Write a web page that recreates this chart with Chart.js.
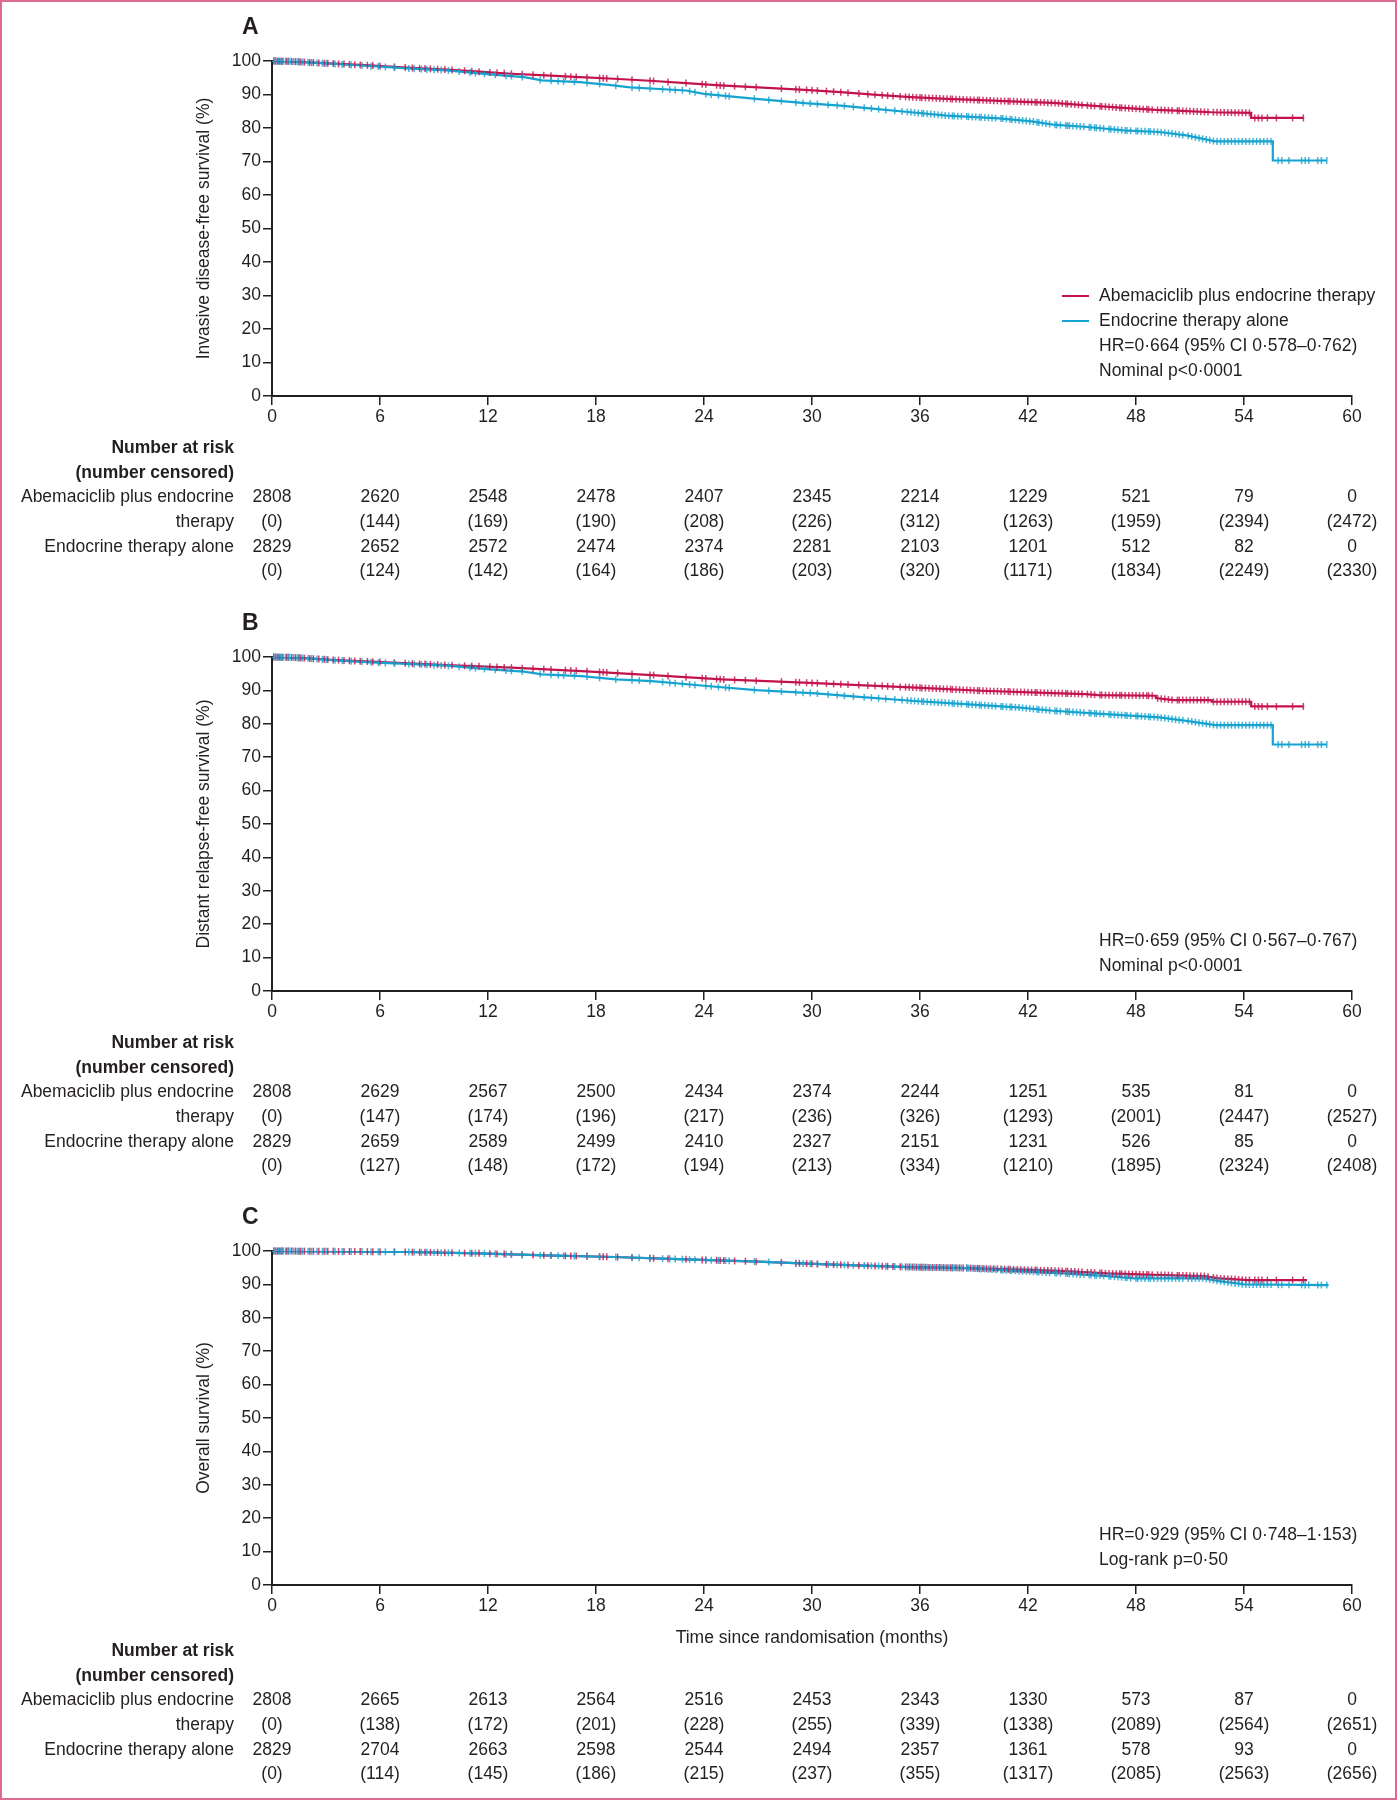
<!DOCTYPE html>
<html>
<head>
<meta charset="utf-8">
<title>Kaplan-Meier curves - monarchE</title>
<script src="https://cdn.jsdelivr.net/npm/chart.js@4.4.1/dist/chart.umd.min.js"></script>
<style>
    html, body { margin: 0; padding: 0; background: #fff; }
    #page { position: relative; width: 1397px; height: 1800px; overflow: hidden; background: #fff; }
    #page canvas { position: absolute; left: 0; }
    #frame { position: absolute; left: 0; top: 0; width: 1397px; height: 1800px; box-sizing: border-box;
             border: 2px solid #dc6b8d; pointer-events: none; }
</style>
</head>
<body>
<div id="page">
    <canvas id="panelA" width="1397" height="600" style="top:0"></canvas>
    <canvas id="panelB" width="1397" height="595" style="top:600px"></canvas>
    <canvas id="panelC" width="1397" height="605" style="top:1195px"></canvas>
    <div id="frame"></div>
</div>
<script>
/* =========================================
   DATA
   ========================================= */
const monthTicks = [0, 6, 12, 18, 24, 30, 36, 42, 48, 54, 60];
const armNames = ['Abemaciclib plus endocrine therapy', 'Endocrine therapy alone'];

// A - invasive disease-free survival (%)
const idfsAbemaMonths = [0, 1, 2, 3.5, 5.4, 7.5, 9.7, 11.5, 13.3, 15.2, 17.1, 19.0, 21.0, 23.0, 24.9, 27.0, 29.6, 31.6, 33.6, 35.5, 37.5, 39.4, 41.4, 43.4, 44.9, 47.3, 49.1, 50.2, 52.2, 54.4, 54.4, 57.3];
const idfsAbemaPct    = [100, 99.9, 99.6, 99.2, 98.7, 98.0, 97.4, 96.8, 96.2, 95.7, 95.2, 94.7, 94.1, 93.4, 92.7, 92.1, 91.4, 90.7, 89.9, 89.2, 88.7, 88.3, 87.9, 87.5, 86.9, 86.0, 85.4, 85.2, 84.7, 84.5, 83.0, 83.0];
const idfsEndoMonths  = [0, 1, 2, 3.5, 5.4, 7.5, 9.7, 12.1, 14.0, 15.0, 17.1, 18.7, 19.9, 23.0, 24.0, 26.9, 29.6, 31.6, 33.5, 35.5, 37.5, 40.4, 42.2, 43.4, 45.3, 47.3, 49.3, 50.8, 52.4, 55.6, 55.6, 58.6];
const idfsEndoPct     = [100, 99.9, 99.6, 99.1, 98.5, 97.8, 97.2, 96.0, 95.2, 94.2, 93.7, 92.9, 92.1, 91.2, 90.2, 88.7, 87.4, 86.7, 85.7, 84.7, 83.7, 82.9, 82.0, 81.0, 80.3, 79.3, 78.8, 77.8, 76.0, 76.0, 70.3, 70.3];
const idfsAbemaAtRisk = [2808, 2620, 2548, 2478, 2407, 2345, 2214, 1229, 521, 79, 0];
const idfsAbemaCens   = [0, 144, 169, 190, 208, 226, 312, 1263, 1959, 2394, 2472];
const idfsEndoAtRisk  = [2829, 2652, 2572, 2474, 2374, 2281, 2103, 1201, 512, 82, 0];
const idfsEndoCens    = [0, 124, 142, 164, 186, 203, 320, 1171, 1834, 2249, 2330];

// B - distant relapse-free survival (%)
const drfsAbemaMonths = [0, 1, 2, 3.5, 5.5, 9.7, 13.3, 17.2, 21.1, 25.0, 27.5, 30.2, 32.6, 35.5, 39.4, 43.4, 45.2, 45.9, 49.1, 49.1, 50.1, 52.2, 52.2, 54.4, 54.4, 57.3];
const drfsAbemaPct    = [100, 99.9, 99.6, 99.1, 98.6, 97.6, 96.8, 95.8, 94.6, 93.3, 92.8, 92.2, 91.6, 90.9, 89.9, 89.2, 88.9, 88.6, 88.4, 87.7, 87.1, 87.1, 86.6, 86.6, 85.2, 85.2];
const drfsEndoMonths  = [0, 1, 2, 3.5, 5.5, 9.7, 12.1, 14.0, 15.0, 17.2, 19.1, 21.1, 24.0, 26.9, 30.2, 32.8, 35.5, 38.5, 41.4, 43.4, 46.3, 49.3, 50.8, 52.4, 55.6, 55.6, 58.6];
const drfsEndoPct     = [100, 99.9, 99.6, 99.0, 98.4, 97.4, 96.3, 95.6, 94.8, 94.3, 93.3, 92.8, 91.4, 90.1, 89.1, 88.0, 86.9, 85.9, 84.9, 83.9, 82.9, 81.9, 80.9, 79.6, 79.6, 73.8, 73.8];
const drfsAbemaAtRisk = [2808, 2629, 2567, 2500, 2434, 2374, 2244, 1251, 535, 81, 0];
const drfsAbemaCens   = [0, 147, 174, 196, 217, 236, 326, 1293, 2001, 2447, 2527];
const drfsEndoAtRisk  = [2829, 2659, 2589, 2499, 2410, 2327, 2151, 1231, 526, 85, 0];
const drfsEndoCens    = [0, 127, 148, 172, 194, 213, 334, 1210, 1895, 2324, 2408];

// C - overall survival (%)
const osAbemaMonths = [0, 3.5, 7.4, 11.5, 15.2, 19.0, 23.0, 27.0, 30.8, 35.4, 38.6, 40.5, 44.0, 46.4, 49.5, 51.8, 52.6, 54.2, 57.5];
const osAbemaPct    = [100, 99.9, 99.7, 99.3, 98.7, 98.2, 97.5, 96.8, 96.0, 95.2, 94.9, 94.6, 94.0, 93.3, 92.8, 92.5, 91.8, 91.3, 91.3];
const osEndoMonths  = [0, 3.5, 7.4, 11.5, 15.2, 19.0, 23.0, 27.0, 30.8, 35.4, 38.6, 40.5, 44.0, 46.4, 47.9, 51.8, 52.6, 54.0, 58.7];
const osEndoPct     = [100, 99.9, 99.7, 99.3, 98.7, 98.2, 97.5, 96.8, 96.0, 95.2, 94.9, 94.3, 93.3, 92.5, 91.8, 91.8, 91.0, 90.0, 89.8];
const osAbemaAtRisk = [2808, 2665, 2613, 2564, 2516, 2453, 2343, 1330, 573, 87, 0];
const osAbemaCens   = [0, 138, 172, 201, 228, 255, 339, 1338, 2089, 2564, 2651];
const osEndoAtRisk  = [2829, 2704, 2663, 2598, 2544, 2494, 2357, 1361, 578, 93, 0];
const osEndoCens    = [0, 114, 145, 186, 215, 237, 355, 1317, 2085, 2563, 2656];

const abemaCensorMonths = [
    0.1, 0.2, 0.3, 0.4, 0.5, 0.6, 0.8, 0.9, 1.1, 1.3, 1.5, 1.6, 1.8, 2.1, 2.3, 2.6, 2.9, 3.1, 3.4, 3.7,
    4.0, 4.3, 4.6, 4.9, 5.3, 5.6, 6.0, 6.8, 7.4, 7.8, 8.2, 8.5, 8.8, 9.2, 9.6, 10.0, 10.7, 11.1, 11.5, 12.1,
    12.5, 12.9, 13.3, 13.9, 14.5, 15.1, 15.5, 16.3, 16.6, 16.9, 17.5, 18.2, 18.4, 18.6, 19.2, 20.0, 21.0, 21.2,
    22.0, 23.0, 23.9, 24.1, 24.7, 24.9, 25.1, 25.7, 26.3, 26.9, 28.3, 29.1, 29.3, 29.7, 30.0, 30.3, 30.8, 31.2,
    31.6, 32.0, 32.6, 33.1, 33.5, 33.9, 34.2, 34.5, 34.9, 35.2, 35.4, 35.6, 35.8, 36.0, 36.1, 36.3, 36.5, 36.7,
    36.9, 37.1, 37.3, 37.5, 37.7, 37.8, 38.0, 38.2, 38.4, 38.6, 38.8, 39.0, 39.2, 39.3, 39.5, 39.7, 39.9, 40.1,
    40.3, 40.5, 40.7, 40.9, 41.0, 41.2, 41.4, 41.6, 41.8, 42.0, 42.2, 42.4, 42.5, 42.7, 42.9, 43.1, 43.3, 43.5,
    43.7, 43.9, 44.1, 44.2, 44.4, 44.6, 44.8, 45.0, 45.3, 45.5, 45.7, 46.0, 46.1, 46.3, 46.5, 46.7, 46.9, 47.1,
    47.2, 47.4, 47.6, 47.8, 48.0, 48.2, 48.4, 48.6, 48.7, 48.9, 49.2, 49.4, 49.6, 49.8, 50.0, 50.3, 50.4, 50.6,
    50.8, 51.0, 51.2, 51.4, 51.6, 51.8, 52.0, 52.3, 52.5, 52.7, 52.9, 53.1, 53.3, 53.5, 53.7, 53.9, 54.1, 54.3,
    54.6, 54.8, 55.0, 55.3, 55.8, 56.7, 57.3
];
const endoCensorMonths = [
    0.1, 0.2, 0.35, 0.5, 0.6, 0.75, 0.9, 1.0, 1.2, 1.4, 1.5, 1.7, 2.0, 2.2, 2.5, 2.8, 3.0, 3.5, 3.9, 4.4,
    5.0, 5.5, 5.9, 6.3, 6.8, 7.6, 7.9, 8.3, 8.6, 9.0, 9.4, 9.8, 10.4, 11.0, 11.3, 11.8, 12.4, 13.0, 13.3, 13.9,
    14.9, 15.5, 15.9, 16.2, 16.8, 17.5, 18.2, 19.1, 20.0, 20.4, 21.0, 21.7, 22.1, 22.4, 22.8, 23.2, 23.5, 24.1,
    24.4, 24.8, 25.2, 25.4, 26.8, 27.6, 28.3, 29.1, 29.5, 29.9, 30.3, 30.9, 31.4, 31.8, 32.3, 32.9, 33.3, 33.7,
    34.1, 34.6, 35.0, 35.3, 35.5, 35.7, 35.9, 36.1, 36.2, 36.4, 36.6, 36.8, 37.0, 37.2, 37.4, 37.6, 37.8, 37.9,
    38.1, 38.3, 38.6, 38.7, 38.9, 39.1, 39.3, 39.4, 39.6, 39.8, 40.0, 40.2, 40.5, 40.6, 40.8, 41.0, 41.1, 41.3,
    41.5, 41.7, 41.9, 42.1, 42.3, 42.5, 42.6, 42.8, 43.0, 43.2, 43.5, 43.6, 43.8, 44.1, 44.2, 44.3, 44.5, 44.7,
    44.9, 45.1, 45.4, 45.5, 45.7, 45.8, 46.0, 46.2, 46.5, 46.6, 46.8, 47.0, 47.2, 47.4, 47.5, 47.7, 48.0, 48.1,
    48.3, 48.5, 48.7, 48.8, 49.0, 49.2, 49.4, 49.6, 49.8, 50.0, 50.2, 50.4, 50.6, 50.9, 51.1, 51.3, 51.5, 51.7,
    51.9, 52.1, 52.3, 52.5, 52.7, 52.9, 53.1, 53.3, 53.5, 53.7, 53.9, 54.1, 54.3, 54.5, 54.7, 54.9, 55.1, 55.3,
    55.5, 55.9, 56.1, 56.5, 57.2, 57.4, 57.6, 58.1, 58.3, 58.6
];

/* =========================================
   STYLE
   ========================================= */
const INK = '#231f20';
const RED = '#c3134b';
const BLUE = '#15a3cf';
const FONT = '"Liberation Sans", Arial, Helvetica, sans-serif';
const FS = 17.5;

Chart.defaults.font.family = FONT;
Chart.defaults.font.size = FS;
Chart.defaults.color = INK;

const toPoints = (months, pct) => months.map((m, i) => ({ x: m, y: pct[i] }));

// per-panel extras (letter, legend, stats, risk table)
const panelSpecs = {
    panelA: {
        letter: 'A', yTitle: 'Invasive disease-free survival (%)', plotTop: 61, plotBottom: 396,
        legend: true, stats: ['HR=0·664 (95% CI 0·578–0·762)', 'Nominal p<0·0001'],
        riskOffset: 52,
        abema: [idfsAbemaMonths, idfsAbemaPct], endo: [idfsEndoMonths, idfsEndoPct],
        risk: [idfsAbemaAtRisk, idfsAbemaCens, idfsEndoAtRisk, idfsEndoCens]
    },
    panelB: {
        letter: 'B', yTitle: 'Distant relapse-free survival (%)', plotTop: 57, plotBottom: 391,
        legend: false, stats: ['HR=0·659 (95% CI 0·567–0·767)', 'Nominal p<0·0001'],
        riskOffset: 52,
        abema: [drfsAbemaMonths, drfsAbemaPct], endo: [drfsEndoMonths, drfsEndoPct],
        risk: [drfsAbemaAtRisk, drfsAbemaCens, drfsEndoAtRisk, drfsEndoCens]
    },
    panelC: {
        letter: 'C', yTitle: 'Overall survival (%)', xTitle: 'Time since randomisation (months)',
        plotTop: 56, plotBottom: 390,
        legend: false, stats: ['HR=0·929 (95% CI 0·748–1·153)', 'Log-rank p=0·50'],
        riskOffset: 66,
        abema: [osAbemaMonths, osAbemaPct], endo: [osEndoMonths, osEndoPct],
        risk: [osAbemaAtRisk, osAbemaCens, osEndoAtRisk, osEndoCens]
    }
};
const censorByDataset = [abemaCensorMonths, endoCensorMonths];

// y pixel on the drawn line at a given x pixel
const yOnLine = (points, px) => {
    for (let i = 1; i < points.length; i++) {
        const p1 = points[i - 1], p2 = points[i];
        if (px >= p1.x && px < p2.x) {
            const t = (px - p1.x) / (p2.x - p1.x);
            return p1.y + t * (p2.y - p1.y);
        }
    }
    const last = points[points.length - 1];
    return Math.abs(px - last.x) < 0.5 ? last.y : null;
};

const panelExtras = {
    id: 'panelExtras',
    afterDatasetsDraw(chart) {
        // censor tick marks, red first then blue on top
        const ctx = chart.ctx;
        const xs = chart.scales.x;
        ctx.save();
        ctx.lineWidth = 1.5;
        [0, 1].forEach(i => {
            const ds = chart.data.datasets[i];
            const pts = chart.getDatasetMeta(i).data;
            ctx.strokeStyle = ds.borderColor;
            ctx.globalAlpha = 0.8;
            censorByDataset[i].forEach(t => {
                const px = xs.getPixelForValue(t);
                const py = yOnLine(pts, px);
                if (py === null) return;
                ctx.beginPath();
                ctx.moveTo(px, py - 3.5);
                ctx.lineTo(px, py + 3.5);
                ctx.stroke();
            });
        });
        ctx.restore();
    },
    afterDraw(chart) {
        const spec = panelSpecs[chart.canvas.id];
        const ctx = chart.ctx;
        const area = chart.chartArea;
        const xs = chart.scales.x;
        ctx.save();
        ctx.fillStyle = INK;
        ctx.textBaseline = 'middle';

        // panel letter
        ctx.font = `bold 23px ${FONT}`;
        ctx.textAlign = 'left';
        ctx.fillText(spec.letter, area.left - 30, area.top - 33);

        // legend
        ctx.font = `${FS}px ${FONT}`;
        const textX = area.right - 253;
        if (spec.legend) {
            [RED, BLUE].forEach((c, i) => {
                const y = area.bottom - 100 + i * 25;
                ctx.strokeStyle = c;
                ctx.lineWidth = 2;
                ctx.beginPath();
                ctx.moveTo(area.right - 290, y);
                ctx.lineTo(area.right - 263, y);
                ctx.stroke();
                ctx.fillText(armNames[i], textX, y);
            });
        }
        // HR / p value
        spec.stats.forEach((s, i) => ctx.fillText(s, textX, area.bottom - 50 + i * 25));

        // number at risk table
        const gap = 24.7;
        const top = area.bottom + spec.riskOffset;
        const labelX = area.left - 38;
        ctx.textAlign = 'right';
        ctx.font = `bold ${FS}px ${FONT}`;
        ctx.fillText('Number at risk', labelX, top);
        ctx.fillText('(number censored)', labelX, top + gap);
        ctx.font = `${FS}px ${FONT}`;
        const rowLabels = ['Abemaciclib plus endocrine', 'therapy', 'Endocrine therapy alone', ''];
        spec.risk.forEach((vals, r) => {
            const y = top + (r + 2) * gap;
            ctx.textAlign = 'right';
            ctx.fillText(rowLabels[r], labelX, y);
            ctx.textAlign = 'center';
            vals.forEach((v, k) => {
                const txt = r % 2 === 1 ? `(${v})` : String(v);
                ctx.fillText(txt, xs.getPixelForValue(monthTicks[k]), y);
            });
        });
        ctx.restore();
    }
};

const makePanel = (canvasId) => {
    const spec = panelSpecs[canvasId];
    const canvas = document.getElementById(canvasId);
    const xAxisHeight = spec.xTitle ? 68 : 40;
    return new Chart(canvas, {
        type: 'line',
        data: {
            datasets: [
                { label: armNames[0], data: toPoints(spec.abema[0], spec.abema[1]), borderColor: RED, order: 1 },
                { label: armNames[1], data: toPoints(spec.endo[0], spec.endo[1]), borderColor: BLUE, order: 0 }
            ]
        },
        options: {
            responsive: false,
            animation: false,
            events: [],
            layout: {
                padding: { left: 190, right: 45, top: spec.plotTop, bottom: canvas.height - spec.plotBottom - xAxisHeight }
            },
            elements: {
                line: { borderWidth: 2.2, tension: 0, fill: false },
                point: { radius: 0 }
            },
            plugins: {
                legend: { display: false },
                tooltip: { enabled: false }
            },
            scales: {
                x: {
                    type: 'linear', min: 0, max: 60,
                    afterBuildTicks: s => { s.ticks = monthTicks.map(v => ({ value: v })); },
                    afterFit: s => { s.height = xAxisHeight; },
                    grid: { drawOnChartArea: false, tickLength: 9, color: INK, lineWidth: 1.5 },
                    border: { color: INK, width: 2 },
                    ticks: { padding: 2, maxRotation: 0, autoSkip: false, color: INK },
                    title: { display: !!spec.xTitle, text: spec.xTitle || '', color: INK, padding: { top: 4, bottom: 4 } }
                },
                y: {
                    min: 0, max: 100,
                    afterFit: s => { s.width = 82; },
                    grid: { drawOnChartArea: false, tickLength: 9, color: INK, lineWidth: 1.5 },
                    border: { color: INK, width: 2 },
                    ticks: { stepSize: 10, padding: 2, color: INK },
                    title: { display: true, text: spec.yTitle, color: INK, padding: { top: 4, bottom: 4 } }
                }
            }
        },
        plugins: [panelExtras]
    });
};

document.addEventListener('DOMContentLoaded', () => {
    ['panelA', 'panelB', 'panelC'].forEach(makePanel);
});
</script>
</body>
</html>
